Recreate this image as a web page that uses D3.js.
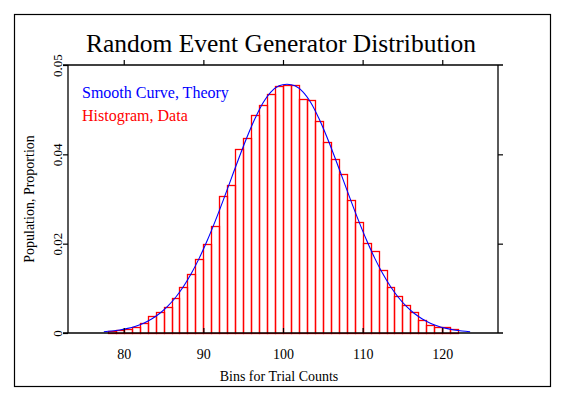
<!DOCTYPE html>
<html>
<head>
<meta charset="utf-8">
<script src="https://cdn.jsdelivr.net/npm/d3@7"></script>
<style>
  body { margin: 0; background: #fff; }
  text { font-family: "Liberation Serif", "DejaVu Serif", serif; }
</style>
</head>
<body>
<div id="chart"></div>
<script>
// histogram bins (left edge of each 1-wide bin) and observed proportions
var bins = [78, 79, 80, 81, 82, 83, 84, 85, 86, 87, 88, 89, 90, 91, 92, 93, 94, 95, 96, 97, 98, 99,
  100, 101, 102, 103, 104, 105, 106, 107, 108, 109, 110, 111, 112, 113, 114, 115, 116, 117, 118, 119, 120, 121];
var dataVals = [0.0004, 0.0007, 0.0009, 0.0014, 0.0022, 0.0039, 0.0047, 0.0059, 0.0079, 0.0103, 0.0132, 0.0166,
  0.0200, 0.0240, 0.0306, 0.0331, 0.0412, 0.0437, 0.0487, 0.0510, 0.0536, 0.0552,
  0.0556, 0.0556, 0.0523, 0.0521, 0.0474, 0.0427, 0.0389, 0.0356, 0.0297, 0.0249, 0.0201, 0.0184,
  0.0141, 0.0103, 0.0083, 0.0063, 0.0047, 0.0029, 0.0019, 0.0014, 0.0013, 0.0008];

// smooth theory curve, sampled at bin centres
var theoryX = [77.5, 78.5, 79.5, 80.5, 81.5, 82.5, 83.5, 84.5, 85.5, 86.5, 87.5, 88.5, 89.5, 90.5, 91.5, 92.5,
  93.5, 94.5, 95.5, 96.5, 97.5, 98.5, 99.5, 100.5, 101.5, 102.5, 103.5, 104.5, 105.5, 106.5, 107.5, 108.5,
  109.5, 110.5, 111.5, 112.5, 113.5, 114.5, 115.5, 116.5, 117.5, 118.5, 119.5, 120.5, 121.5, 122.5, 123.5];
var theoryY = [0.00028, 0.00045, 0.00069, 0.00103, 0.00153, 0.00221, 0.00314, 0.00436, 0.00595, 0.00795,
  0.01041, 0.01337, 0.01682, 0.02076, 0.0251, 0.02975, 0.03457, 0.03936, 0.04394, 0.04808, 0.05156,
  0.05400, 0.05535, 0.05570, 0.05535, 0.05400, 0.05156, 0.04808, 0.04394, 0.03936, 0.03457, 0.02975,
  0.0251, 0.02076, 0.01682, 0.01337, 0.01041, 0.00795, 0.00595, 0.00436, 0.00314, 0.00221, 0.00153,
  0.00103, 0.00069, 0.00045, 0.00028];

var xTicks = [80, 90, 100, 110, 120];
var yTicks = [0, 0.02, 0.04, 0.06];
var yTickLabels = ['0', '0.02', '0.04', '0.05'];

var W = 564, H = 398;
var pLeft = 68, pRight = 498, pTop = 65, pBottom = 333;

var svg = d3.select('#chart')
  .append('svg')
    .attr('width', W)
    .attr('height', H);

var x = d3.scaleLinear().domain([73, 127]).range([pLeft, pRight]);
var y = d3.scaleLinear().domain([0, 0.06]).range([pBottom, pTop]);

// outer frame
svg.append('rect')
  .attr('x', 14.5).attr('y', 14.5)
  .attr('width', 536).attr('height', 372)
  .attr('fill', 'none')
  .attr('stroke', 'black')
  .attr('stroke-width', 1.2);

svg.append('text')
  .attr('x', 281).attr('y', 52)
  .attr('text-anchor', 'middle')
  .style('font-size', '25.5px')
  .text('Random Event Generator Distribution');

// histogram bars
svg.append('g')
  .selectAll('rect')
  .data(bins)
  .join('rect')
    .attr('x', function(d) { return Math.round(x(d)) + 0.5; })
    .attr('width', function(d) { return Math.round(x(d + 1)) - Math.round(x(d)); })
    .attr('y', function(d, i) { return Math.round(y(dataVals[i])) + 0.5; })
    .attr('height', function(d, i) { return Math.round(y(0)) - Math.round(y(dataVals[i])); })
    .attr('fill', 'none')
    .attr('stroke', 'red')
    .attr('stroke-width', 1.3);

// theory curve
var line = d3.line()
  .x(function(d, i) { return x(theoryX[i]); })
  .y(function(d) { return y(d); })
  .curve(d3.curveCatmullRom);

svg.append('path')
  .attr('d', line(theoryY))
  .attr('fill', 'none')
  .attr('stroke', 'blue')
  .attr('stroke-width', 1.1);

// axes
var gx = svg.append('g')
  .attr('transform', 'translate(0,' + pBottom + ')')
  .call(d3.axisBottom(x).tickValues(xTicks).tickSizeInner(-5).tickSizeOuter(0).tickFormat(d3.format('d')));
gx.selectAll('text').attr('y', 26).attr('dy', 0).style('font-size', '14px');

svg.append('g')
  .attr('transform', 'translate(0,' + pTop + ')')
  .call(d3.axisTop(x).tickValues(xTicks).tickSize(5).tickFormat(''));

var gy = svg.append('g')
  .attr('transform', 'translate(' + pLeft + ',0)')
  .call(d3.axisLeft(y).tickValues(yTicks).tickSize(5).tickFormat(function(d, i) { return yTickLabels[i]; }));
gy.selectAll('text')
  .attr('transform', 'rotate(-90)')
  .attr('x', 0).attr('y', -6).attr('dy', 0)
  .attr('text-anchor', 'middle')
  .style('font-size', '13px');

svg.append('g')
  .attr('transform', 'translate(' + pRight + ',0)')
  .call(d3.axisRight(y).tickValues([0.02, 0.04]).tickSize(5).tickFormat(''));

svg.selectAll('.domain').remove();
svg.selectAll('.tick line').attr('stroke-width', 1.2);

// plot box, horizontal lines run past the side axes
svg.append('line').attr('x1', pLeft - 5).attr('x2', pRight + 5).attr('y1', pTop).attr('y2', pTop).attr('stroke', 'black').attr('stroke-width', 1.3);
svg.append('line').attr('x1', pLeft - 5).attr('x2', pRight + 5).attr('y1', pBottom).attr('y2', pBottom).attr('stroke', 'black').attr('stroke-width', 1.3);
svg.append('line').attr('x1', pLeft).attr('x2', pLeft).attr('y1', pTop).attr('y2', pBottom).attr('stroke', 'black').attr('stroke-width', 1.3);
svg.append('line').attr('x1', pRight).attr('x2', pRight).attr('y1', pTop).attr('y2', pBottom).attr('stroke', 'black').attr('stroke-width', 1.3);

// axis titles
svg.append('text')
  .attr('x', 279).attr('y', 381)
  .attr('text-anchor', 'middle')
  .style('font-size', '14px')
  .text('Bins for Trial Counts');

svg.append('text')
  .attr('transform', 'translate(34,199) rotate(-90)')
  .attr('text-anchor', 'middle')
  .style('font-size', '14px')
  .text('Population, Proportion');

// legend
svg.append('text')
  .attr('x', 82).attr('y', 98)
  .attr('fill', 'blue')
  .style('font-size', '16px')
  .text('Smooth Curve, Theory');

svg.append('text')
  .attr('x', 82).attr('y', 121)
  .attr('fill', 'red')
  .style('font-size', '16px')
  .text('Histogram, Data');
</script>
</body>
</html>
